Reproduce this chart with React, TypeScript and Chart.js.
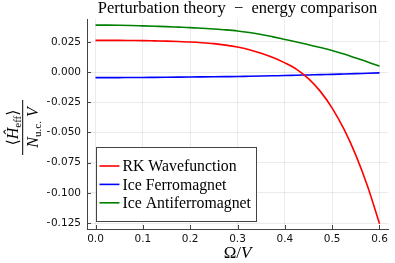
import { useEffect, useRef } from "react";
import { Chart, registerables } from "chart.js";

Chart.register(...registerables);

const omega = [0, 0.025, 0.05, 0.075, 0.1, 0.125, 0.15, 0.175, 0.2, 0.225, 0.25, 0.275, 0.3, 0.325, 0.35, 0.375, 0.4, 0.425, 0.45, 0.475, 0.5, 0.525, 0.55, 0.575, 0.6];
const rkWavefunction = [0.0262, 0.0262, 0.0262, 0.0261, 0.026, 0.0258, 0.0256, 0.0253, 0.0249, 0.0243, 0.0235, 0.0223, 0.0207, 0.0185, 0.0156, 0.012, 0.0076, 0.0022, -0.0055, -0.016, -0.0298, -0.0473, -0.0688, -0.0948, -0.1255];
const iceFerromagnet = [-0.0046, -0.0046, -0.0046, -0.0045, -0.0045, -0.0044, -0.0043, -0.0042, -0.0041, -0.004, -0.0039, -0.0038, -0.0037, -0.0035, -0.0033, -0.0031, -0.0029, -0.0026, -0.0024, -0.0021, -0.0019, -0.0016, -0.0013, -0.001, -0.0007];
const iceAntiferromagnet = [0.0388, 0.0388, 0.0387, 0.0385, 0.0382, 0.0379, 0.0376, 0.0372, 0.0368, 0.0362, 0.0356, 0.0349, 0.034, 0.0327, 0.0311, 0.0291, 0.027, 0.0249, 0.0226, 0.0203, 0.0179, 0.0149, 0.0116, 0.0083, 0.0048];

const xTicks = [0, 0.1, 0.2, 0.3, 0.4, 0.5, 0.6];
const yTicks = [-0.125, -0.1, -0.075, -0.05, -0.025, 0, 0.025];
const seriesLabels = ["RK Wavefunction", "Ice Ferromagnet", "Ice Antiferromagnet"];
const seriesColors = ["#ff0000", "#0000ff", "#008000"];
const titleText = "Perturbation theory  \u2212  energy comparison";

const SERIF = '"Liberation Serif", "DejaVu Serif", serif';
const SANS = '"DejaVu Sans", sans-serif';
const AXIS = "#444444";

type Run = { t: string; font: string; dy?: number };

function drawRuns(ctx: CanvasRenderingContext2D, runs: Run[], cx: number, y: number) {
  let total = 0;
  const widths = runs.map((r) => {
    ctx.font = r.font;
    const w = ctx.measureText(r.t).width;
    total += w;
    return w;
  });
  let x = cx - total / 2;
  ctx.textAlign = "left";
  ctx.textBaseline = "alphabetic";
  runs.forEach((r, i) => {
    ctx.font = r.font;
    ctx.fillText(r.t, x, y + (r.dy || 0));
    x += widths[i];
  });
  return total;
}

const decor = {
  id: "decor",
  afterDraw(chart: any) {
    const { ctx, chartArea: a, scales } = chart;
    ctx.save();
    // inward tick marks
    ctx.strokeStyle = AXIS;
    ctx.lineWidth = 1;
    ctx.beginPath();
    xTicks.forEach((v) => {
      const px = Math.round(scales.x.getPixelForValue(v)) + 0.5;
      ctx.moveTo(px, a.bottom);
      ctx.lineTo(px, a.bottom - 4);
    });
    yTicks.forEach((v) => {
      const py = Math.round(scales.y.getPixelForValue(v)) + 0.5;
      ctx.moveTo(a.left, py);
      ctx.lineTo(a.left + 4, py);
    });
    ctx.stroke();

    ctx.fillStyle = "#000";
    const cx = (a.left + a.right) / 2;
    // title
    drawRuns(ctx, [{ t: titleText, font: `16.5px ${SERIF}` }], cx, 13);
    // x label
    drawRuns(
      ctx,
      [
        { t: "\u03a9", font: `17px ${SERIF}` },
        { t: "/", font: `17px ${SERIF}` },
        { t: "V", font: `italic 17px ${SERIF}` },
      ],
      cx,
      258
    );
    // y label (fraction)
    ctx.save();
    ctx.translate(22.7, 127.5);
    ctx.rotate(-Math.PI / 2);
    const wn = drawRuns(
      ctx,
      [
        { t: "\u27e8", font: `16px ${SERIF}` },
        { t: "\u0124", font: `italic 16px ${SERIF}` },
        { t: "eff", font: `11px ${SERIF}`, dy: 3 },
        { t: "\u27e9", font: `16px ${SERIF}` },
      ],
      0,
      -5
    );
    const wd = drawRuns(
      ctx,
      [
        { t: "N", font: `italic 16px ${SERIF}` },
        { t: "u.c.", font: `11px ${SERIF}`, dy: 3 },
        { t: " V", font: `italic 16px ${SERIF}` },
      ],
      0,
      15
    );
    const half = Math.max(wn, wd, 55) / 2;
    ctx.strokeStyle = "#000";
    ctx.beginPath();
    ctx.moveTo(-half, 0);
    ctx.lineTo(half, 0);
    ctx.stroke();
    ctx.restore();

    // legend
    const lx = scales.x.getPixelForValue(0.002);
    const ly = 147.5;
    const lw = 160;
    const lh = 74;
    ctx.fillStyle = "#fff";
    ctx.fillRect(lx, ly, lw, lh);
    ctx.strokeStyle = AXIS;
    ctx.lineWidth = 1;
    ctx.strokeRect(Math.round(lx) + 0.5, ly, lw, lh);
    chart.data.datasets.forEach((ds: any, i: number) => {
      const y = 166 + i * 18.4;
      ctx.strokeStyle = ds.borderColor;
      ctx.lineWidth = 1.6;
      ctx.beginPath();
      ctx.moveTo(lx + 3, y);
      ctx.lineTo(lx + 23, y);
      ctx.stroke();
      ctx.fillStyle = "#000";
      ctx.font = `15.8px ${SERIF}`;
      ctx.textAlign = "left";
      ctx.textBaseline = "middle";
      ctx.fillText(ds.label, lx + 26, y + 1);
    });
    ctx.restore();
  },
};

export default function App() {
  const ref = useRef<HTMLCanvasElement | null>(null);
  useEffect(() => {
    document.body.style.margin = "0";
    const canvas = ref.current;
    if (!canvas) return;
    const datasets = [rkWavefunction, iceFerromagnet, iceAntiferromagnet].map((vals, i) => ({
      label: seriesLabels[i],
      data: omega.map((x, j) => ({ x, y: vals[j] })),
      borderColor: seriesColors[i],
      backgroundColor: seriesColors[i],
      borderWidth: 1.6,
      pointRadius: 0,
      cubicInterpolationMode: "monotone" as const,
      fill: false,
    }));
    const chart = new Chart(canvas, {
      type: "line",
      data: { datasets },
      options: {
        responsive: false,
        animation: false,
        devicePixelRatio: 1,
        layout: { padding: { left: 47, top: 19, right: 7, bottom: 14 } },
        plugins: { legend: { display: false }, title: { display: false }, tooltip: { enabled: false } },
        scales: {
          x: {
            type: "linear",
            min: -0.018,
            max: 0.618,
            afterBuildTicks: (s: any) => {
              s.ticks = xTicks.map((v) => ({ value: v }));
            },
            afterFit: (s: any) => {
              s.height = 20;
            },
            ticks: {
              autoSkip: false,
              maxRotation: 0,
              padding: 4,
              color: "#111",
              font: { family: SANS, size: 10.5 },
              callback: (v: any) => Number(v).toFixed(1),
            },
            grid: { color: "rgba(0,0,0,0.08)", lineWidth: 1, drawTicks: false },
            border: { display: true, color: AXIS, width: 1 },
          },
          y: {
            type: "linear",
            min: -0.1299,
            max: 0.0439,
            afterBuildTicks: (s: any) => {
              s.ticks = yTicks.map((v) => ({ value: v }));
            },
            afterFit: (s: any) => {
              s.width = 40;
            },
            ticks: {
              autoSkip: false,
              padding: 6,
              color: "#111",
              font: { family: SANS, size: 10.5 },
              callback: (v: any) => {
                const n = Number(v);
                const s = Math.abs(n).toFixed(3);
                return n < -1e-9 ? "\u2212" + s : s;
              },
            },
            grid: { color: "rgba(0,0,0,0.08)", lineWidth: 1, drawTicks: false },
            border: { display: true, color: AXIS, width: 1 },
          },
        },
      },
      plugins: [decor],
    });
    return () => chart.destroy();
  }, []);
  return (
    <div style={{ width: 395, height: 263 }}>
      <canvas ref={ref} width={395} height={263} />
    </div>
  );
}
